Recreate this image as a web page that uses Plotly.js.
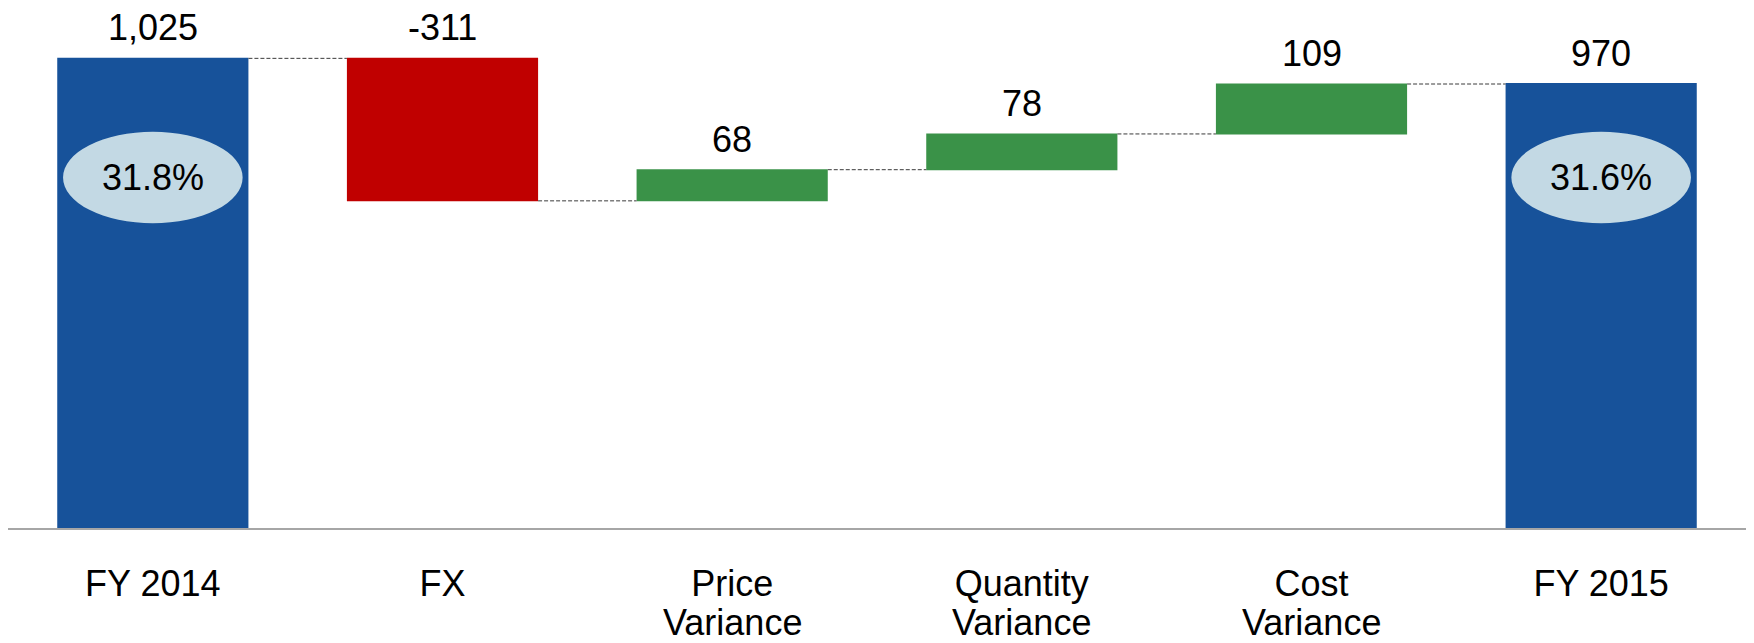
<!DOCTYPE html>
<html>
<head>
<meta charset="utf-8">
<script src="https://cdn.plot.ly/plotly-3.0.1.min.js"></script>
<style>
  html, body { margin: 0; padding: 0; background: #ffffff; }
  #chart { width: 1754px; height: 643px; }
</style>
</head>
<body>
<div id="chart"></div>
<script>
// ---- data ----
const categories = ["FY 2014", "FX", "Price Variance", "Quantity Variance", "Cost Variance", "FY 2015"];
const labelLine1 = ["FY 2014", "FX", "Price", "Quantity", "Cost", "FY 2015"];
const labelLine2 = ["", "", "Variance", "Variance", "Variance", ""];
const measures   = ["absolute", "relative", "relative", "relative", "relative", "absolute"];
const values     = [1025, -311, 68, 78, 109, 970];
const valueLabels = ["1,025", "-311", "68", "78", "109", "970"];
const marginCats   = ["FY 2014", "FY 2015"];
const marginLabels = ["31.8%", "31.6%"];

// ---- styles ----
const FONT = "Liberation Sans, Arial, sans-serif";
const BLUE = "#17529A";
const GREEN = "#3A9248";
const RED = "#C00000";
const ELLIPSE = "#C3D9E4";
const BAR_W = 0.66;

// tops of each bar (for value labels)
const tops = [];
let run = 0;
values.forEach((v, i) => {
  if (measures[i] === "absolute") { run = v; tops.push(v); }
  else { const start = run; run += v; tops.push(Math.max(start, run)); }
});

const trace = {
  type: "waterfall",
  x: categories,
  y: values,
  measure: measures,
  width: categories.map(() => BAR_W),
  increasing: { marker: { color: GREEN } },
  decreasing: { marker: { color: RED } },
  totals: { marker: { color: BLUE } },
  connector: { mode: "between", line: { color: "#3a3a3a", width: 1, dash: "4px,2px" } },
  textinfo: "none",
  hoverinfo: "skip",
  showlegend: false
};

const annotations = [];
categories.forEach((c, i) => {
  annotations.push({
    x: c, y: tops[i], xref: "x", yref: "y",
    text: valueLabels[i], showarrow: false,
    yanchor: "bottom", yshift: 8,
    font: { family: FONT, size: 36, color: "#000000" }
  });
  if (labelLine2[i]) {
    annotations.push({
      x: c, y: 0, xref: "x", yref: "paper",
      text: labelLine2[i], showarrow: false,
      yanchor: "top", yshift: -73, borderpad: 0,
      font: { family: FONT, size: 36, color: "#000000" }
    });
  }
});

const shapes = [];
const ELL_HALF_W = 0.31;
const ELL_Y0 = 0.60, ELL_Y1 = 0.78;
marginCats.forEach((c, k) => {
  const idx = categories.indexOf(c);
  shapes.push({
    type: "circle", xref: "x", yref: "paper",
    x0: idx - ELL_HALF_W, x1: idx + ELL_HALF_W,
    y0: ELL_Y0, y1: ELL_Y1,
    fillcolor: ELLIPSE, line: { width: 0 }, layer: "above"
  });
  annotations.push({
    x: c, y: (ELL_Y0 + ELL_Y1) / 2, xref: "x", yref: "paper",
    text: marginLabels[k], showarrow: false,
    yanchor: "middle",
    font: { family: FONT, size: 36, color: "#000000" }
  });
});

const layout = {
  width: 1754, height: 643,
  margin: { l: 8, r: 8, t: 20, b: 115 },
  paper_bgcolor: "#ffffff", plot_bgcolor: "#ffffff",
  font: { family: FONT, size: 36, color: "#000000" },
  xaxis: {
    type: "category",
    tickmode: "array", tickvals: categories, ticktext: labelLine1,
    showline: true, linecolor: "#A6A6A6", linewidth: 2,
    showgrid: false, zeroline: false, ticks: "",
    tickfont: { family: FONT, size: 36, color: "#000000" },
    ticklabelstandoff: 23,
    fixedrange: true
  },
  yaxis: {
    range: [0, 1108.7],
    visible: false, showgrid: false, zeroline: false,
    fixedrange: true
  },
  shapes: shapes,
  annotations: annotations
};

Plotly.newPlot("chart", [trace], layout, { staticPlot: true, displayModeBar: false });
</script>
</body>
</html>
